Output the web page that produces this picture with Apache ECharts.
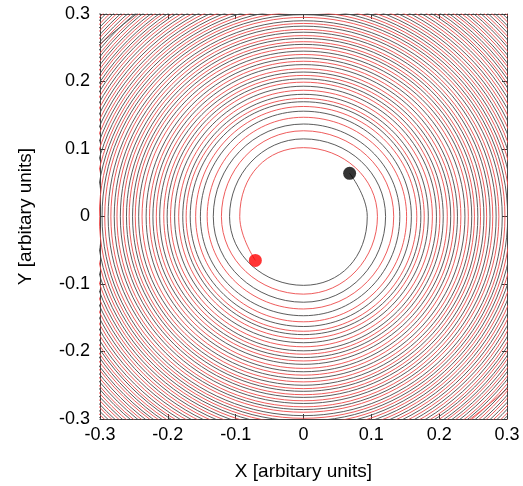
<!DOCTYPE html>
<html lang="en">
<head>
    <meta charset="UTF-8">
    <title>Orbits</title>
    <style>
        * {
            margin: 0;
            padding: 0;
        }

        html, body {
            height: 100%;
            width: 100%;
            background: #fff;
        }
    </style>
    <script src="https://cdn.jsdelivr.net/npm/echarts@6/dist/echarts.min.js"></script>
</head>
<body>

<div id="main" style="width: 523px;height: 486px;"></div>

<script>
    // radius of the orbit at every quarter turn, read where the curves cross the axes
    // (first value: +x crossing just after the dot, then -y, -x, +y, ...)
    var quarterRadii = [
        0.094, 0.102, 0.109, 0.115, 0.121, 0.127, 0.133, 0.137, 0.142, 0.147,
        0.152, 0.156, 0.159, 0.163, 0.167, 0.170, 0.173, 0.175, 0.178, 0.181,
        0.184, 0.187, 0.190, 0.193, 0.196, 0.199, 0.201, 0.204, 0.206, 0.209,
        0.212, 0.214, 0.217, 0.219, 0.222, 0.225, 0.227, 0.230, 0.232, 0.235,
        0.238, 0.240, 0.243, 0.245, 0.248, 0.250, 0.252, 0.255, 0.257, 0.259,
        0.261, 0.264, 0.266, 0.268, 0.270, 0.273, 0.275, 0.277, 0.279, 0.282,
        0.284, 0.286, 0.288, 0.290, 0.293, 0.295, 0.297, 0.299, 0.301, 0.303,
        0.305, 0.307, 0.309, 0.311, 0.313, 0.315, 0.317, 0.319, 0.321, 0.323,
        0.325, 0.327, 0.329, 0.331, 0.333, 0.335, 0.337, 0.339, 0.341, 0.343,
        0.345, 0.347, 0.349, 0.351, 0.353, 0.355, 0.357, 0.358, 0.360, 0.362,
        0.364, 0.366, 0.367, 0.369, 0.371, 0.373, 0.375, 0.376, 0.378, 0.380,
        0.382, 0.384, 0.385, 0.387, 0.389, 0.391, 0.393, 0.394, 0.396, 0.398,
        0.400, 0.402, 0.403, 0.405, 0.407, 0.409, 0.411, 0.412, 0.414, 0.416,
        0.418, 0.420, 0.421, 0.423, 0.425, 0.427, 0.429, 0.430, 0.432, 0.434,
        0.436, 0.438, 0.439, 0.441, 0.443, 0.445, 0.447, 0.449
    ];
    // final positions of the two bodies
    var blackDot = [0.068, 0.064];
    var redDot = [-0.071, -0.065];
    // axis ticks
    var axisMin = -0.3, axisMax = 0.3, axisStep = 0.1;

    // crossing directions in order (clockwise going out from the dot)
    var dirs = [[1, 0], [0, -1], [-1, 0], [0, 1]];

    function orbit(dot, sign) {
        var pts = [dot];
        for (var i = 0; i < quarterRadii.length; i++) {
            var d = dirs[i % 4];
            pts.push([sign * d[0] * quarterRadii[i], sign * d[1] * quarterRadii[i]]);
        }
        return pts;
    }

    var myChart = echarts.init(document.getElementById('main'));

    var font = 'Liberation Sans, Arial, Helvetica, sans-serif';
    var tickStyle = {show: true, inside: true, length: 5, lineStyle: {color: '#333'}};
    var lineStyle = {show: true, onZero: false, lineStyle: {color: '#444', width: 1}};

    var option = {
        animation: false,
        grid: {left: 100, right: 16, top: 14, bottom: 67},
        xAxis: [
            {
                type: 'value', min: axisMin, max: axisMax, interval: axisStep,
                position: 'bottom',
                name: 'X [arbitary units]', nameLocation: 'middle', nameGap: 43,
                nameTextStyle: {fontFamily: font, fontSize: 19, color: '#000'},
                axisLine: lineStyle, axisTick: tickStyle, splitLine: {show: false},
                axisLabel: {fontFamily: font, fontSize: 18, color: '#000', margin: 7}
            },
            {
                type: 'value', min: axisMin, max: axisMax, interval: axisStep,
                position: 'top',
                axisLine: lineStyle, axisTick: tickStyle, splitLine: {show: false},
                axisLabel: {show: false}
            }
        ],
        yAxis: [
            {
                type: 'value', min: axisMin, max: axisMax, interval: axisStep,
                position: 'left',
                name: 'Y [arbitary units]', nameLocation: 'middle', nameGap: 65,
                nameTextStyle: {fontFamily: font, fontSize: 19, color: '#000'},
                axisLine: lineStyle, axisTick: tickStyle, splitLine: {show: false},
                axisLabel: {fontFamily: font, fontSize: 18, color: '#000', margin: 10}
            },
            {
                type: 'value', min: axisMin, max: axisMax, interval: axisStep,
                position: 'right',
                axisLine: lineStyle, axisTick: tickStyle, splitLine: {show: false},
                axisLabel: {show: false}
            }
        ],
        series: [
            {
                name: 'red', type: 'line', data: orbit(redDot, -1),
                symbol: 'none', smooth: 0.55, clip: true,
                lineStyle: {color: '#ec4a4a', width: 0.9}
            },
            {
                name: 'black', type: 'line', data: orbit(blackDot, 1),
                symbol: 'none', smooth: 0.55, clip: true,
                lineStyle: {color: '#4a4a4a', width: 0.9}
            },
            {
                type: 'scatter', data: [redDot], symbolSize: 13,
                itemStyle: {color: '#ff0000'}, z: 5
            },
            {
                type: 'scatter', data: [blackDot], symbolSize: 13,
                itemStyle: {color: '#000'}, z: 5
            }
        ]
    };
    myChart.setOption(option);
</script>

</body>
</html>
